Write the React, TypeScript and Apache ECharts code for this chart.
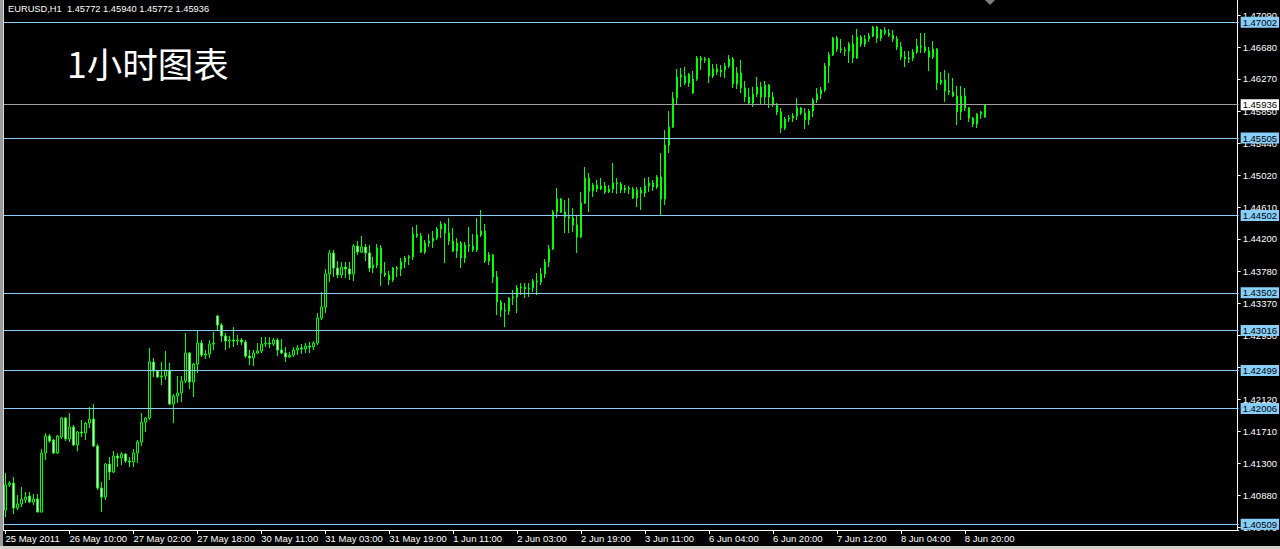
import React, { useEffect, useRef } from "react";
import * as echarts from "echarts";

const timeLabels = [
  "25 May 2011", "26 May 10:00", "27 May 02:00", "27 May 18:00", "30 May 11:00",
  "31 May 03:00", "31 May 19:00", "1 Jun 11:00", "2 Jun 03:00", "2 Jun 19:00",
  "3 Jun 11:00", "6 Jun 04:00", "6 Jun 20:00", "7 Jun 12:00", "8 Jun 04:00", "8 Jun 20:00",
];
const barsPerLabel = 16;
const totalSlots = 309;

const priceTicks = [
  1.4709, 1.4668, 1.4627, 1.4585, 1.4544, 1.4502, 1.4461, 1.442, 1.4378,
  1.4337, 1.4295, 1.4254, 1.4212, 1.4171, 1.413, 1.4088, 1.4047,
];
const levelLines = [1.47002, 1.45505, 1.44502, 1.43502, 1.43016, 1.42499, 1.42006, 1.40509];
const bidPrice = 1.45936;
const header = "EURUSD,H1  1.45772 1.45940 1.45772 1.45936";
const title = "1小时图表";

// [open, close, low, high]
const candles = [
  [1.40693, 1.41017, 1.40603, 1.41172], [1.41017, 1.41042, 1.40991, 1.41068],
  [1.41042, 1.40719, 1.40642, 1.41120], [1.40719, 1.40771, 1.40693, 1.40887],
  [1.40771, 1.40836, 1.40732, 1.40991], [1.40823, 1.40861, 1.40784, 1.40926],
  [1.40874, 1.40797, 1.40784, 1.40926], [1.40797, 1.40836, 1.40758, 1.40900],
  [1.40836, 1.40667, 1.40667, 1.40900], [1.40667, 1.41430, 1.40667, 1.41482],
  [1.41430, 1.41650, 1.41340, 1.41689], [1.41650, 1.41586, 1.41560, 1.41676],
  [1.41599, 1.41430, 1.41418, 1.41612], [1.41430, 1.41650, 1.41418, 1.41663],
  [1.41638, 1.41883, 1.41612, 1.41896], [1.41883, 1.41612, 1.41586, 1.41896],
  [1.41612, 1.41767, 1.41573, 1.41948], [1.41767, 1.41534, 1.41521, 1.41793],
  [1.41534, 1.41702, 1.41456, 1.41715], [1.41702, 1.41689, 1.41638, 1.41857],
  [1.41689, 1.41818, 1.41599, 1.41831], [1.41818, 1.41870, 1.41754, 1.42026],
  [1.41870, 1.41521, 1.41508, 1.42064], [1.41521, 1.40978, 1.40952, 1.41547],
  [1.40978, 1.40861, 1.40667, 1.41055], [1.40861, 1.41288, 1.40823, 1.41301],
  [1.41288, 1.41185, 1.41081, 1.41379], [1.41185, 1.41392, 1.41172, 1.41456],
  [1.41392, 1.41366, 1.41249, 1.41430], [1.41366, 1.41418, 1.41275, 1.41443],
  [1.41418, 1.41327, 1.41301, 1.41430], [1.41327, 1.41314, 1.41249, 1.41379],
  [1.41314, 1.41430, 1.41249, 1.41482], [1.41430, 1.41573, 1.41301, 1.41599],
  [1.41573, 1.41831, 1.41521, 1.41948], [1.41831, 1.41883, 1.41702, 1.41896],
  [1.41883, 1.42608, 1.41857, 1.42789], [1.42608, 1.42491, 1.42414, 1.42659],
  [1.42491, 1.42414, 1.42401, 1.42504], [1.42414, 1.42427, 1.42310, 1.42608],
  [1.42427, 1.42504, 1.42375, 1.42750], [1.42504, 1.42064, 1.42051, 1.42595],
  [1.42064, 1.42168, 1.41818, 1.42194], [1.42168, 1.42207, 1.42077, 1.42427],
  [1.42207, 1.42362, 1.42090, 1.42427], [1.42362, 1.42724, 1.42336, 1.42983],
  [1.42724, 1.42349, 1.42258, 1.42737], [1.42349, 1.42582, 1.42155, 1.42595],
  [1.42582, 1.42853, 1.42465, 1.43009], [1.42853, 1.42698, 1.42672, 1.42892],
  [1.42698, 1.42711, 1.42646, 1.42763], [1.42711, 1.42840, 1.42659, 1.42892],
  [1.42840, 1.42853, 1.42763, 1.42996], [1.43203, 1.43086, 1.43022, 1.43216],
  [1.43086, 1.42944, 1.42866, 1.43112], [1.42944, 1.42879, 1.42763, 1.42983],
  [1.42879, 1.42892, 1.42789, 1.42944], [1.42892, 1.42879, 1.42802, 1.43060],
  [1.42879, 1.42892, 1.42827, 1.42957], [1.42892, 1.42866, 1.42827, 1.42918],
  [1.42866, 1.42685, 1.42659, 1.42892], [1.42685, 1.42659, 1.42569, 1.42763],
  [1.42659, 1.42724, 1.42556, 1.42763], [1.42724, 1.42750, 1.42711, 1.42853],
  [1.42750, 1.42840, 1.42724, 1.42931], [1.42840, 1.42853, 1.42802, 1.42931],
  [1.42853, 1.42840, 1.42789, 1.42931], [1.42840, 1.42892, 1.42815, 1.42918],
  [1.42892, 1.42763, 1.42685, 1.42918], [1.42763, 1.42724, 1.42711, 1.42905],
  [1.42724, 1.42672, 1.42608, 1.42802], [1.42672, 1.42698, 1.42659, 1.42737],
  [1.42698, 1.42763, 1.42672, 1.42802], [1.42763, 1.42789, 1.42698, 1.42827],
  [1.42789, 1.42776, 1.42711, 1.42840], [1.42776, 1.42815, 1.42724, 1.42853],
  [1.42815, 1.42802, 1.42724, 1.42866], [1.42802, 1.42853, 1.42763, 1.42879],
  [1.42853, 1.43177, 1.42827, 1.43241], [1.43177, 1.43319, 1.43151, 1.43513],
  [1.43319, 1.43746, 1.43241, 1.43810], [1.43746, 1.44017, 1.43642, 1.44056],
  [1.44017, 1.43823, 1.43707, 1.44056], [1.43823, 1.43733, 1.43694, 1.43914],
  [1.43733, 1.43836, 1.43694, 1.43901], [1.43836, 1.43810, 1.43694, 1.43901],
  [1.43810, 1.43746, 1.43668, 1.43901], [1.43746, 1.44108, 1.43655, 1.44134],
  [1.44108, 1.44030, 1.43992, 1.44173], [1.44030, 1.44095, 1.44017, 1.44237],
  [1.44095, 1.44017, 1.43914, 1.44134], [1.44017, 1.43823, 1.43772, 1.44121],
  [1.43823, 1.43862, 1.43759, 1.43966], [1.43862, 1.44082, 1.43823, 1.44134],
  [1.44082, 1.43759, 1.43591, 1.44121], [1.43759, 1.43733, 1.43707, 1.43901],
  [1.43733, 1.43668, 1.43604, 1.43785], [1.43668, 1.43823, 1.43642, 1.43836],
  [1.43823, 1.43810, 1.43707, 1.43849], [1.43810, 1.43901, 1.43720, 1.43953],
  [1.43901, 1.43953, 1.43823, 1.43979], [1.43953, 1.43966, 1.43862, 1.43992],
  [1.43966, 1.44263, 1.43927, 1.44354], [1.44263, 1.44237, 1.44211, 1.44380],
  [1.44237, 1.44030, 1.44017, 1.44276], [1.44030, 1.44147, 1.44005, 1.44186],
  [1.44147, 1.44173, 1.44095, 1.44263], [1.44173, 1.44211, 1.44082, 1.44302],
  [1.44211, 1.44328, 1.44186, 1.44354], [1.44328, 1.44393, 1.44211, 1.44431],
  [1.44393, 1.44276, 1.43888, 1.44405], [1.44276, 1.44173, 1.44121, 1.44470],
  [1.44173, 1.44043, 1.44030, 1.44341], [1.44043, 1.44147, 1.43953, 1.44211],
  [1.44147, 1.43953, 1.43823, 1.44173], [1.43953, 1.44121, 1.43888, 1.44160],
  [1.44121, 1.44108, 1.44030, 1.44354], [1.44108, 1.44056, 1.44030, 1.44263],
  [1.44056, 1.44250, 1.44030, 1.44470], [1.44250, 1.44302, 1.44224, 1.44574],
  [1.44302, 1.43914, 1.43888, 1.44393], [1.43914, 1.43992, 1.43862, 1.44030],
  [1.43992, 1.43707, 1.43629, 1.44005], [1.43707, 1.43384, 1.43216, 1.43785],
  [1.43384, 1.43280, 1.43190, 1.43410], [1.43280, 1.43267, 1.43060, 1.43371],
  [1.43267, 1.43435, 1.43216, 1.43448], [1.43435, 1.43448, 1.43345, 1.43539],
  [1.43448, 1.43565, 1.43241, 1.43604], [1.43565, 1.43578, 1.43474, 1.43629],
  [1.43578, 1.43552, 1.43435, 1.43629], [1.43552, 1.43565, 1.43448, 1.43629],
  [1.43565, 1.43655, 1.43513, 1.43681], [1.43655, 1.43642, 1.43474, 1.43759],
  [1.43642, 1.43746, 1.43604, 1.43823], [1.43746, 1.43901, 1.43694, 1.43940],
  [1.43901, 1.44069, 1.43836, 1.44121], [1.44069, 1.44548, 1.44056, 1.44574],
  [1.44548, 1.44716, 1.44470, 1.44858], [1.44716, 1.44548, 1.44535, 1.44729],
  [1.44548, 1.44483, 1.44276, 1.44703], [1.44483, 1.44470, 1.44276, 1.44729],
  [1.44470, 1.44380, 1.44289, 1.44599], [1.44380, 1.44224, 1.44017, 1.44496],
  [1.44224, 1.44664, 1.44211, 1.44806], [1.44664, 1.44988, 1.44651, 1.45130],
  [1.44988, 1.44819, 1.44548, 1.45052], [1.44819, 1.44897, 1.44742, 1.44923],
  [1.44897, 1.44845, 1.44806, 1.44962], [1.44845, 1.44884, 1.44832, 1.44988],
  [1.44884, 1.44806, 1.44781, 1.44936], [1.44806, 1.44845, 1.44794, 1.44897],
  [1.44845, 1.44923, 1.44794, 1.45182], [1.44923, 1.44910, 1.44781, 1.44988],
  [1.44910, 1.44832, 1.44794, 1.44936], [1.44832, 1.44858, 1.44794, 1.44897],
  [1.44858, 1.44845, 1.44781, 1.44884], [1.44845, 1.44729, 1.44716, 1.44871],
  [1.44729, 1.44832, 1.44612, 1.44871], [1.44832, 1.44794, 1.44574, 1.44871],
  [1.44794, 1.44884, 1.44742, 1.44988], [1.44884, 1.44923, 1.44806, 1.45001],
  [1.44923, 1.44871, 1.44819, 1.44962], [1.44871, 1.45001, 1.44845, 1.45026],
  [1.45001, 1.44716, 1.44509, 1.45311], [1.44716, 1.45414, 1.44638, 1.45608],
  [1.45414, 1.45647, 1.45311, 1.45854], [1.45647, 1.46022, 1.45634, 1.46100],
  [1.46022, 1.46294, 1.45932, 1.46397], [1.46294, 1.46320, 1.46165, 1.46410],
  [1.46307, 1.46216, 1.46190, 1.46423], [1.46216, 1.46333, 1.46165, 1.46346],
  [1.46268, 1.46087, 1.46074, 1.46372], [1.46268, 1.46540, 1.46242, 1.46566],
  [1.46540, 1.46514, 1.46385, 1.46566], [1.46514, 1.46527, 1.46475, 1.46553],
  [1.46527, 1.46307, 1.46216, 1.46540], [1.46307, 1.46397, 1.46281, 1.46462],
  [1.46397, 1.46359, 1.46320, 1.46462], [1.46359, 1.46385, 1.46294, 1.46449],
  [1.46385, 1.46436, 1.46281, 1.46475], [1.46436, 1.46527, 1.46410, 1.46579],
  [1.46527, 1.46203, 1.46152, 1.46553], [1.46203, 1.46346, 1.46139, 1.46423],
  [1.46346, 1.46152, 1.46087, 1.46514], [1.46152, 1.46035, 1.45971, 1.46242],
  [1.46035, 1.45958, 1.45945, 1.46152], [1.45958, 1.46074, 1.45906, 1.46165],
  [1.46074, 1.46165, 1.46035, 1.46294], [1.46165, 1.46035, 1.45932, 1.46229],
  [1.46035, 1.46190, 1.45932, 1.46242], [1.46190, 1.46035, 1.45893, 1.46203],
  [1.46035, 1.45932, 1.45906, 1.46100], [1.45932, 1.45841, 1.45802, 1.45958],
  [1.45841, 1.45634, 1.45570, 1.45893], [1.45634, 1.45751, 1.45608, 1.45777],
  [1.45751, 1.45764, 1.45712, 1.45802], [1.45764, 1.45790, 1.45712, 1.45828],
  [1.45790, 1.45893, 1.45738, 1.46022], [1.45893, 1.45828, 1.45802, 1.45906],
  [1.45828, 1.45738, 1.45621, 1.45893], [1.45738, 1.45854, 1.45673, 1.45880],
  [1.45854, 1.45996, 1.45777, 1.46022], [1.45996, 1.46074, 1.45958, 1.46152],
  [1.46074, 1.46126, 1.46009, 1.46165], [1.46126, 1.46436, 1.46100, 1.46475],
  [1.46436, 1.46579, 1.46216, 1.46617], [1.46579, 1.46798, 1.46566, 1.46811],
  [1.46798, 1.46656, 1.46617, 1.46824], [1.46656, 1.46643, 1.46604, 1.46786],
  [1.46643, 1.46630, 1.46566, 1.46682], [1.46630, 1.46721, 1.46475, 1.46747],
  [1.46721, 1.46540, 1.46475, 1.46837], [1.46540, 1.46811, 1.46527, 1.46915],
  [1.46811, 1.46721, 1.46682, 1.46837], [1.46721, 1.46786, 1.46682, 1.46837],
  [1.46786, 1.46824, 1.46747, 1.46863], [1.46824, 1.46941, 1.46811, 1.46954],
  [1.46941, 1.46798, 1.46734, 1.46954], [1.46798, 1.46902, 1.46760, 1.46915],
  [1.46902, 1.46863, 1.46837, 1.46941], [1.46863, 1.46837, 1.46811, 1.46915],
  [1.46837, 1.46786, 1.46747, 1.46902], [1.46786, 1.46682, 1.46643, 1.46824],
  [1.46682, 1.46553, 1.46514, 1.46747], [1.46553, 1.46527, 1.46423, 1.46630],
  [1.46527, 1.46540, 1.46475, 1.46630], [1.46540, 1.46617, 1.46501, 1.46656],
  [1.46617, 1.46695, 1.46592, 1.46786], [1.46695, 1.46682, 1.46604, 1.46863],
  [1.46682, 1.46630, 1.46604, 1.46863], [1.46630, 1.46553, 1.46372, 1.46682],
  [1.46553, 1.46656, 1.46527, 1.46760], [1.46656, 1.46216, 1.46126, 1.46669],
  [1.46216, 1.46255, 1.46190, 1.46359], [1.46255, 1.46113, 1.45971, 1.46385],
  [1.46113, 1.46100, 1.46061, 1.46346], [1.46100, 1.46048, 1.46035, 1.46281],
  [1.46048, 1.45841, 1.45673, 1.46178], [1.45841, 1.46048, 1.45738, 1.46178],
  [1.46048, 1.45893, 1.45854, 1.46152], [1.45893, 1.45764, 1.45712, 1.45906],
  [1.45764, 1.45686, 1.45647, 1.45777], [1.45686, 1.45815, 1.45634, 1.45828],
  [1.45815, 1.45841, 1.45751, 1.45854], [1.45772, 1.45936, 1.45772, 1.45940],
];

const FONT = "'Liberation Sans', Arial, sans-serif";
const isLabelSlot = (i: number) => i % barsPerLabel === 0 && i / barsPerLabel < timeLabels.length;
const categories = Array.from({ length: totalSlots }, (_, i) =>
  isLabelSlot(i) ? timeLabels[i / barsPerLabel] : "bar" + i
);

export default function App() {
  const ref = useRef<HTMLDivElement>(null);
  useEffect(() => {
    if (!ref.current) return;
    const chart = echarts.init(ref.current, null, { renderer: "svg" });
    const markData: any[] = levelLines.map((v) => ({
      yAxis: v,
      lineStyle: { color: "#87cefa", width: 1, type: "solid" },
      label: { backgroundColor: "#87cefa", color: "#000000" },
    }));
    markData.push({
      yAxis: bidPrice,
      lineStyle: { color: "#a0a0a0", width: 1, type: "solid" },
      label: { backgroundColor: "#ffffff", color: "#000000" },
    });
    chart.setOption({
      animation: false,
      backgroundColor: "#000000",
      grid: { left: 3.5, top: 0, width: 1236, height: 530, containLabel: false },
      xAxis: {
        type: "category",
        data: categories,
        boundaryGap: true,
        axisLine: { show: true, lineStyle: { color: "#ffffff", width: 1 } },
        axisTick: {
          show: true,
          interval: (i: number) => isLabelSlot(i),
          alignWithLabel: true,
          length: 4,
          lineStyle: { color: "#ffffff" },
        },
        axisLabel: {
          interval: (i: number) => isLabelSlot(i),
          color: "#ffffff",
          fontSize: 9.5,
          fontFamily: FONT,
          align: "left",
          margin: 3,
        },
        splitLine: { show: false },
      },
      yAxis: {
        type: "value",
        position: "right",
        offset: -1,
        min: 1.40435,
        max: 1.4729,
        scale: true,
        axisLine: { show: true, lineStyle: { color: "#ffffff", width: 1 } },
        axisTick: { show: true, length: 3, customValues: priceTicks, lineStyle: { color: "#ffffff" } },
        axisLabel: {
          customValues: priceTicks,
          formatter: (v: number) => v.toFixed(5),
          color: "#ffffff",
          fontSize: 9.5,
          fontFamily: FONT,
          margin: 5,
        },
        splitLine: { show: false },
      },
      series: [
        {
          type: "candlestick",
          data: candles,
          barWidth: 2,
          itemStyle: {
            color: "#000000",
            color0: "#ffffff",
            borderColor: "#00ff00",
            borderColor0: "#00ff00",
            borderWidth: 1,
          },
          markLine: {
            silent: true,
            symbol: ["none", "none"],
            precision: 5,
            label: {
              show: true,
              position: "end",
              distance: 2,
              formatter: (p: any) => Number(p.value).toFixed(5),
              fontSize: 9.5,
              fontFamily: FONT,
              padding: [1, 2, 0, 2],
              lineHeight: 10,
            },
            data: markData,
          },
        },
      ],
      graphic: [
        { type: "rect", shape: { x: 0, y: 0, width: 3, height: 549 }, style: { fill: "#9a9a9a" }, z: 10 },
        { type: "line", shape: { x1: 3.5, y1: 0, x2: 3.5, y2: 531 }, style: { stroke: "#d8d8d8", lineWidth: 1 }, z: 10 },
        { type: "rect", shape: { x: 0, y: 546, width: 1280, height: 3 }, style: { fill: "#d4d0c8" }, z: 10 },
        { type: "polygon", shape: { points: [[985, 0], [995, 0], [990, 5]] }, style: { fill: "#808080" }, z: 10 },
        {
          type: "text",
          x: 8,
          y: 9,
          style: { text: header, fill: "#ffffff", font: `9.3px ${FONT}`, textVerticalAlign: "middle" },
          z: 10,
        },
        {
          type: "text",
          x: 67,
          y: 62,
          style: {
            text: title,
            fill: "#ffffff",
            font: `35.5px 'Noto Sans CJK SC', sans-serif`,
            textVerticalAlign: "middle",
          },
          z: 10,
        },
      ],
    });
    return () => chart.dispose();
  }, []);
  return (
    <div
      ref={ref}
      style={{ position: "absolute", left: 0, top: 0, width: 1280, height: 549, background: "#000" }}
    />
  );
}
